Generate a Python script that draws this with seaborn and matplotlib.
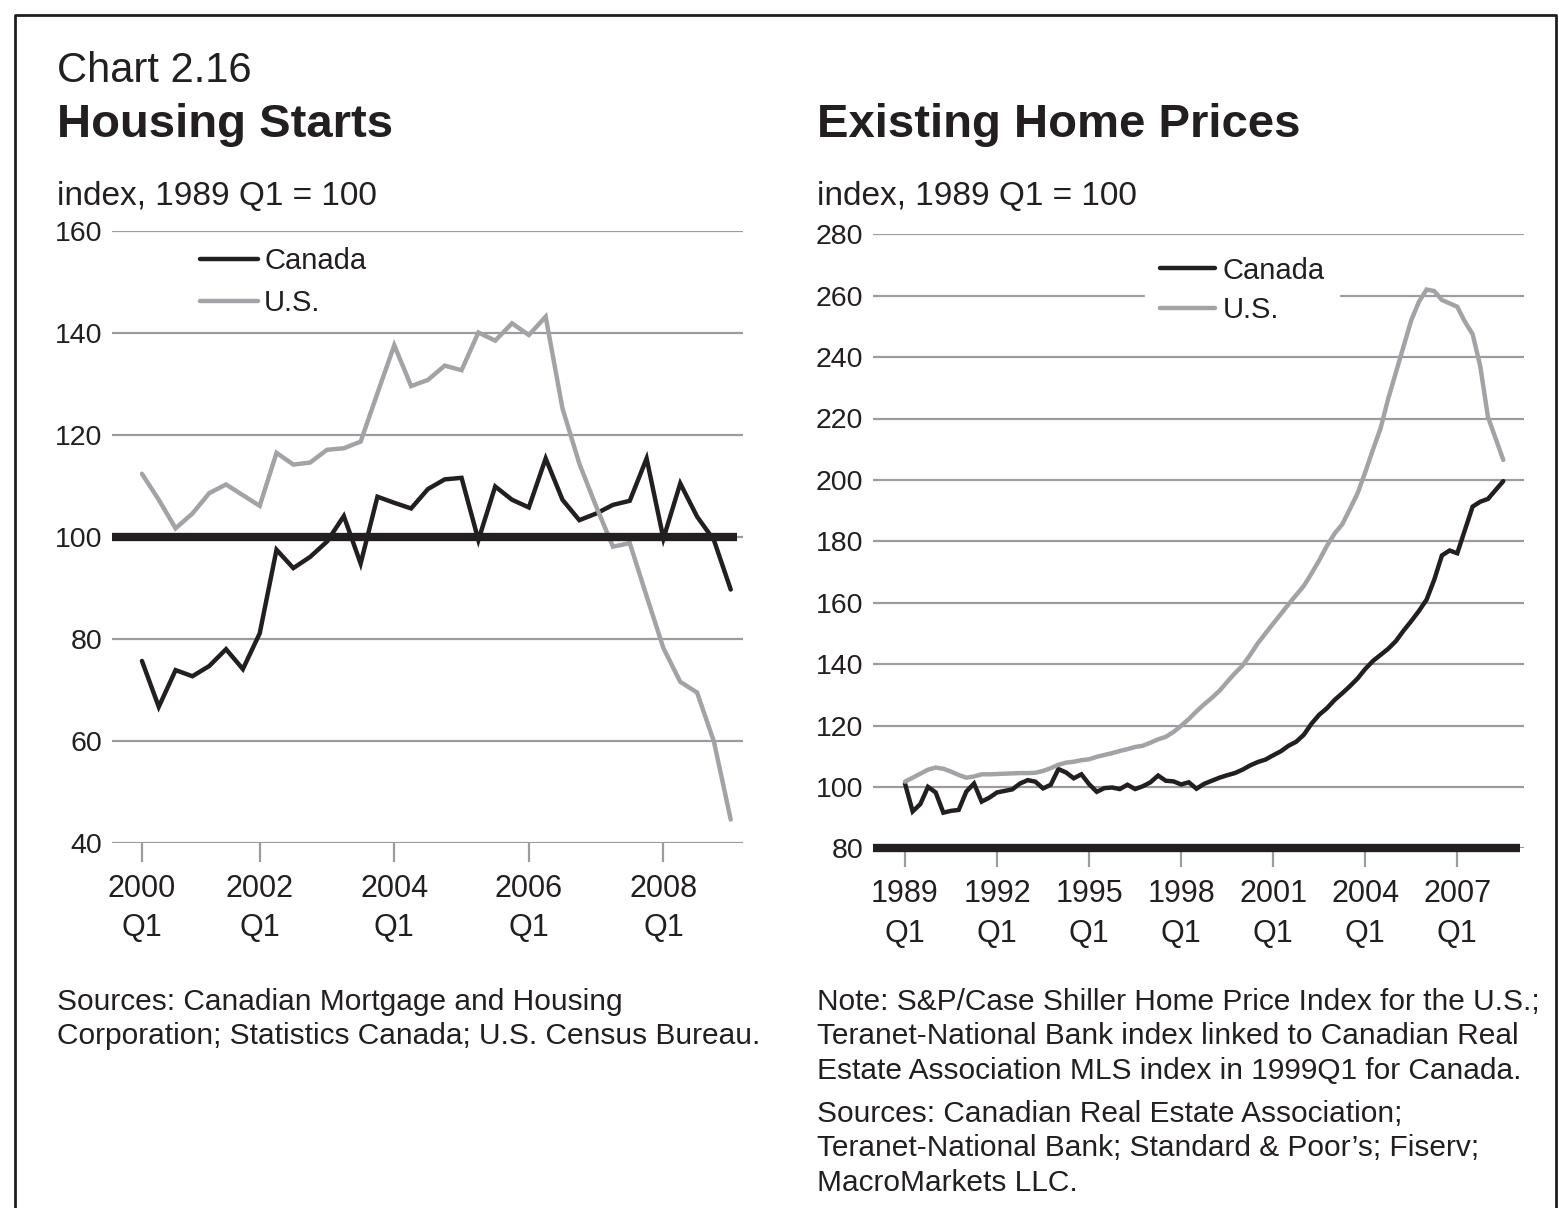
import matplotlib
matplotlib.use('Agg')
import matplotlib.pyplot as plt
from matplotlib.lines import Line2D
import numpy as np
import pandas as pd
import seaborn as sns

# Housing starts, quarterly 2000Q1 - 2008Q4 (index, 1989 Q1 = 100)
starts_canada = [75.7, 66.7, 73.9, 72.7, 74.7, 78.0, 74.1, 81.1, 97.5, 93.9,
                 96.1, 99.1, 104.1, 94.8, 107.9, 106.7, 105.6, 109.4, 111.3, 111.6,
                 99.4, 109.9, 107.3, 105.8, 115.4, 107.3, 103.3, 104.6, 106.3, 107.1,
                 115.4, 99.7, 110.5, 104.0, 99.4, 89.7]
starts_us = [112.4, 107.3, 101.7, 104.6, 108.6, 110.3, 108.2, 106.1, 116.5, 114.2,
             114.6, 117.1, 117.4, 118.7, 128.2, 137.6, 129.6, 130.8, 133.6, 132.7,
             140.1, 138.5, 141.9, 139.6, 143.2, 125.2, 114.4, 106.0, 98.1, 98.8,
             88.4, 78.2, 71.6, 69.5, 59.9, 44.6]
starts_ticks = [0, 7, 15, 23, 31]
starts_labels = ['2000\nQ1', '2002\nQ1', '2004\nQ1', '2006\nQ1', '2008\nQ1']

# Existing home prices, quarterly 1989Q1 - 2008Q3 (index, 1989 Q1 = 100)
prices_canada = [101.1, 92.0, 94.4, 100.0, 98.2, 91.6, 92.2, 92.5, 98.5, 101.1,
                 95.2, 96.5, 98.2, 98.7, 99.2, 101.1, 102.2, 101.7, 99.5, 100.7,
                 105.8, 104.7, 102.8, 104.1, 100.9, 98.4, 99.6, 99.8, 99.3, 100.7,
                 99.3, 100.2, 101.5, 103.7, 102.0, 101.8, 100.8, 101.5, 99.4, 101.0,
                 102.0, 103.0, 103.8, 104.5, 105.6, 107.0, 108.1, 108.9, 110.3, 111.6,
                 113.4, 114.7, 117.0, 120.6, 123.5, 125.6, 128.3, 130.5, 132.8, 135.3,
                 138.4, 141.0, 143.0, 145.0, 147.5, 150.9, 154.0, 157.3, 161.0, 167.5,
                 175.4, 177.0, 176.1, 183.7, 191.3, 192.9, 193.8, 196.7, 199.6]
prices_us = [101.7, 103.0, 104.3, 105.6, 106.3, 105.9, 105.0, 103.9, 103.0, 103.4,
             104.1, 104.1, 104.2, 104.3, 104.4, 104.5, 104.5, 104.6, 105.2, 106.1,
             107.2, 107.9, 108.2, 108.7, 109.0, 109.8, 110.4, 111.0, 111.7, 112.3,
             113.0, 113.4, 114.4, 115.5, 116.3, 117.9, 119.9, 122.1, 124.6, 126.9,
             129.0, 131.3, 134.2, 137.0, 139.5, 143.0, 146.8, 150.0, 153.2, 156.3,
             159.5, 162.5, 165.5, 169.5, 173.8, 178.5, 182.5, 185.5, 190.5, 195.6,
             202.5, 209.8, 216.8, 226.5, 235.0, 243.5, 252.0, 258.0, 262.0, 261.5,
             258.6, 257.5, 256.4, 251.5, 247.5, 237.0, 220.5, 213.5, 206.5]
prices_ticks = [0, 12, 24, 36, 48, 60, 72]
prices_labels = ['1989\nQ1', '1992\nQ1', '1995\nQ1', '1998\nQ1',
                 '2001\nQ1', '2004\nQ1', '2007\nQ1']

series_names = ['Canada', 'U.S.']

W, H = 1559, 1208
DARK = '#231f20'
US_GREY = '#a2a3a6'
GRID = '#9c9c9c'


def fx(x):
    return x / W


def fy(y):
    return 1 - y / H


sns.set_theme(style='white')
plt.rcParams['font.family'] = ['Liberation Sans', 'DejaVu Sans']
plt.rcParams['text.color'] = DARK
plt.rcParams['xtick.color'] = GRID
plt.rcParams['xtick.labelcolor'] = DARK
plt.rcParams['ytick.labelcolor'] = DARK

fig = plt.figure(figsize=(W / 100, H / 100), dpi=100)
ax1 = fig.add_axes([fx(112), fy(843), (743 - 112) / W, (843 - 231) / H])
ax2 = fig.add_axes([fx(873), fy(848.3), (1524 - 873) / W, (848.3 - 234.3) / H])


def draw_panel(ax, canada, us, base, xlim, ylim, yticks, xticks, xlabels, base_xmax):
    df = pd.DataFrame({'q': np.arange(len(canada)), 'Canada': canada, 'U.S.': us})
    sns.lineplot(data=df, x='q', y='Canada', ax=ax, color=DARK, lw=3.2,
                 solid_joinstyle='miter', zorder=3)
    sns.lineplot(data=df, x='q', y='U.S.', ax=ax, color=US_GREY, lw=3.2,
                 solid_joinstyle='miter', zorder=3)
    ax.axhline(base, xmin=0, xmax=base_xmax, color=DARK, lw=6, zorder=4,
               clip_on=False, solid_capstyle='butt')
    ax.set_xlim(*xlim)
    ax.set_ylim(*ylim)
    ax.set_yticks(yticks)
    ax.set_yticklabels([str(v) for v in yticks])
    ax.set_xticks(xticks)
    ax.set_xticklabels(xlabels, linespacing=1.42)
    ax.yaxis.grid(True, color=GRID, lw=1.6)
    ax.xaxis.grid(False)
    for s in ax.spines.values():
        s.set_visible(False)
    ax.tick_params(axis='y', length=0, pad=7, labelsize=20.5)
    ax.tick_params(axis='x', length=14, width=1.6, color=GRID, pad=8,
                   labelsize=22, direction='out', bottom=True)
    ax.set_xlabel('')
    ax.set_ylabel('')


draw_panel(ax1, starts_canada, starts_us, 100, (-1.78, 35.73), (40, 160),
           list(range(40, 161, 20)), starts_ticks, starts_labels, 0.99)
draw_panel(ax2, prices_canada, prices_us, 80, (-4.17, 80.7), (80, 280),
           list(range(80, 281, 20)), prices_ticks, prices_labels, 0.994)

handles = [Line2D([], [], color=DARK, lw=3.2), Line2D([], [], color=US_GREY, lw=3.2)]
ax1.legend(handles, series_names, loc='upper left', bbox_to_anchor=(fx(200), fy(247)),
           bbox_transform=fig.transFigure, frameon=False, borderpad=0,
           borderaxespad=0, handlelength=2.0, handletextpad=0.2,
           labelspacing=0.47, fontsize=21)
ax2.legend(handles, series_names, loc='upper left',
           bbox_to_anchor=(fx(1145), fy(242)),
           bbox_transform=fig.transFigure, frameon=True, fancybox=False,
           facecolor='white', edgecolor='white', framealpha=1,
           borderpad=0.5, borderaxespad=0, handlelength=1.9,
           handletextpad=0.25, labelspacing=0.4, fontsize=21)

# titles and units
fig.text(fx(57), fy(82), 'Chart 2.16', fontsize=30, va='baseline')
fig.text(fx(57), fy(137), 'Housing Starts', fontsize=34, fontweight='bold', va='baseline')
fig.text(fx(817), fy(137), 'Existing Home Prices', fontsize=34, fontweight='bold', va='baseline')
fig.text(fx(57), fy(205), 'index, 1989 Q1 = 100', fontsize=24, va='baseline')
fig.text(fx(817), fy(205), 'index, 1989 Q1 = 100', fontsize=24, va='baseline')

# notes and sources
left_notes = ['Sources: Canadian Mortgage and Housing',
              'Corporation; Statistics Canada; U.S. Census Bureau.']
for i, line in enumerate(left_notes):
    fig.text(fx(57), fy(1010 + 34 * i), line, fontsize=21.5, va='baseline')

right_notes = ['Note: S&P/Case Shiller Home Price Index for the U.S.;',
               'Teranet-National Bank index linked to Canadian Real',
               'Estate Association MLS index in 1999Q1 for Canada.']
for i, line in enumerate(right_notes):
    fig.text(fx(817), fy(1010 + 34.5 * i), line, fontsize=21.5, va='baseline')

right_sources = ['Sources: Canadian Real Estate Association;',
                 'Teranet-National Bank; Standard & Poor\u2019s; Fiserv;',
                 'MacroMarkets LLC.']
for i, line in enumerate(right_sources):
    fig.text(fx(817), fy(1122 + 34.5 * i), line, fontsize=21.5, va='baseline')

# outer frame (open at the bottom)
fig.add_artist(Line2D([fx(15), fx(15), fx(1556), fx(1556)],
                      [fy(1215), fy(15), fy(15), fy(1215)],
                      transform=fig.transFigure, color=DARK, lw=2))

fig.savefig('out.png', dpi=100)
